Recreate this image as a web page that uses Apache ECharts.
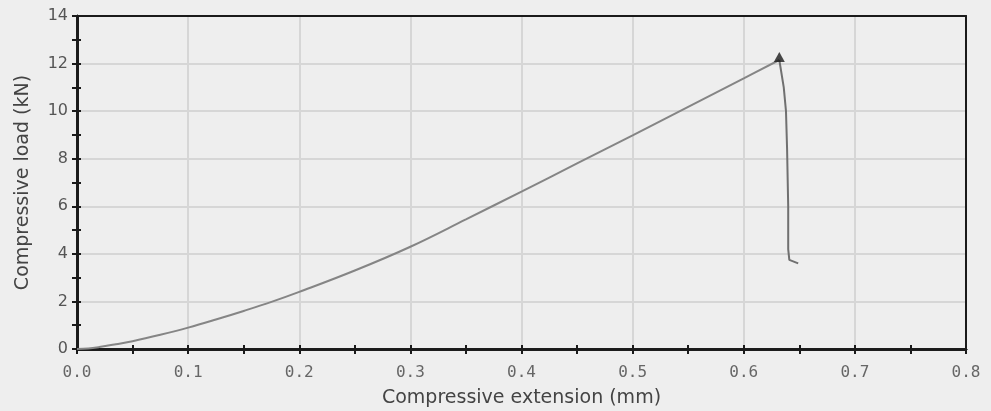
<!DOCTYPE html>
<html><head><meta charset="utf-8">
<script src="https://cdn.jsdelivr.net/npm/echarts@6/dist/echarts.min.js"></script>
<style>html,body{margin:0;padding:0;background:#eeeeee}#c{width:991px;height:411px}</style>
</head><body><div id="c"></div>
<script>
const extension = [0, 0.01, 0.02, 0.035, 0.05, 0.075, 0.1, 0.125, 0.15, 0.175, 0.2, 0.25, 0.3, 0.35, 0.4, 0.45, 0.5, 0.55, 0.6, 0.632, 0.636, 0.638, 0.639, 0.640, 0.640, 0.641, 0.649];
const load      = [0, 0.02, 0.08, 0.2, 0.33, 0.6, 0.9, 1.24, 1.6, 1.98, 2.4, 3.3, 4.3, 5.45, 6.62, 7.8, 8.98, 10.18, 11.38, 12.15, 11.0, 10.0, 8.4, 6.0, 4.2, 3.75, 3.6];
const xTickLabels = ['0.0','0.1','0.2','0.3','0.4','0.5','0.6','0.7','0.8'];
const yTickLabels = ['0','2','4','6','8','10','12','14'];
const xTitle = 'Compressive extension (mm)';
const yTitle = 'Compressive load (kN)';

const pts = extension.map((x, i) => [x, load[i]]);
let peakIdx = 0;
load.forEach((v, i) => { if (v > load[peakIdx]) peakIdx = i; });
const rising = pts.slice(0, peakIdx + 1);
const falling = pts.slice(peakIdx);

const dark = '#1a1a1a';
const tickStyle = { color: dark, width: 2 };
function xAx(extra) {
  return Object.assign({ type: 'value', min: 0, max: 0.8, position: 'bottom',
    axisLine: { show: true, onZero: false, lineStyle: { color: dark, width: 2.5 } },
    splitLine: { show: false }, axisLabel: { show: false }, axisTick: { show: false } }, extra);
}
function yAx(extra) {
  return Object.assign({ type: 'value', min: 0, max: 14, position: 'left',
    axisLine: { show: true, onZero: false, lineStyle: { color: dark, width: 2.5 } },
    splitLine: { show: false }, axisLabel: { show: false }, axisTick: { show: false } }, extra);
}

const chart = echarts.init(document.getElementById('c'), null, { renderer: 'canvas' });
chart.setOption({
  backgroundColor: '#eeeeee',
  animation: false,
  grid: { left: 77, right: 25, top: 16, bottom: 62, containLabel: false, outerBoundsMode: 'none' },
  xAxis: [
    xAx({ interval: 0.1,
      name: xTitle, nameLocation: 'middle', nameGap: 40,
      nameTextStyle: { fontFamily: 'DejaVu Sans', fontSize: 19, color: '#444' },
      splitLine: { show: true, lineStyle: { color: '#d6d6d6', width: 2 } },
      axisLabel: { show: true, margin: 16, fontFamily: 'DejaVu Sans Mono', fontSize: 16, color: '#666',
        formatter: (v) => xTickLabels[Math.round(v * 10)] ?? '' } }),
    xAx({ interval: 0.05, axisTick: { show: true, inside: false, length: 5, lineStyle: tickStyle } }),
    xAx({ interval: 0.05, axisTick: { show: true, inside: true, length: 4, lineStyle: tickStyle } }),
    xAx({ position: 'top', axisLine: { show: true, onZero: false, lineStyle: { color: dark, width: 2 } } })
  ],
  yAxis: [
    yAx({ interval: 2,
      name: yTitle, nameLocation: 'middle', nameGap: 44, nameRotate: 90,
      nameTextStyle: { fontFamily: 'DejaVu Sans', fontSize: 19, color: '#444' },
      splitLine: { show: true, lineStyle: { color: '#d6d6d6', width: 2 } },
      axisLabel: { show: true, margin: 9, fontFamily: 'DejaVu Sans', fontSize: 16, color: '#555',
        formatter: (v) => yTickLabels[Math.round(v / 2)] ?? '' } }),
    yAx({ interval: 1, axisTick: { show: true, inside: false, length: 5, lineStyle: tickStyle } }),
    yAx({ interval: 1, axisTick: { show: true, inside: true, length: 4, lineStyle: tickStyle } }),
    yAx({ position: 'right', axisLine: { show: true, onZero: false, lineStyle: { color: dark, width: 2 } } })
  ],
  series: [
    { type: 'line', data: rising, showSymbol: false, symbol: 'none', smooth: 0.4,
      lineStyle: { color: '#858585', width: 2 }, z: 3 },
    { type: 'line', data: falling, showSymbol: false, symbol: 'none', smooth: false,
      lineStyle: { color: '#707070', width: 2 }, z: 3 },
    { type: 'scatter', data: [pts[peakIdx]], symbol: 'triangle', symbolSize: [11, 10], symbolOffset: [0, -3],
      itemStyle: { color: dark }, z: 4 }
  ]
});
</script></body></html>
